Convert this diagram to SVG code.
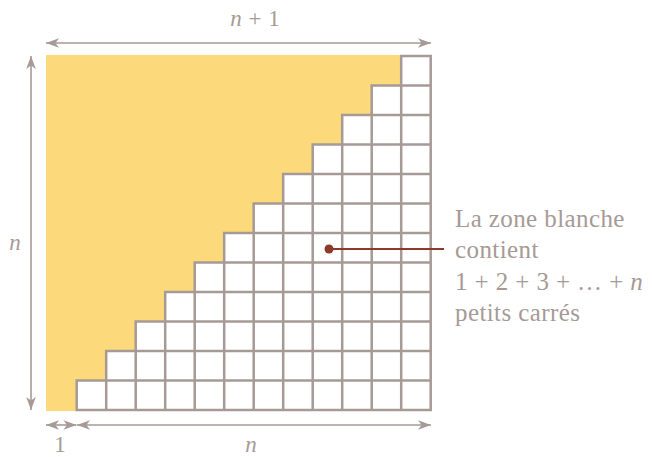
<svg xmlns="http://www.w3.org/2000/svg" width="652" height="457" viewBox="0 0 652 457">
<defs>
<style>
.dim{stroke:#a69a96;stroke-width:1.6;fill:none;marker-start:url(#ah);marker-end:url(#ah)}
.grid{stroke:#a69a96;stroke-width:2.5;fill:none;stroke-linecap:square}
.lbl{font-family:"Liberation Serif","Times New Roman",serif;font-size:23px;fill:#a69a96}
.call{font-family:"Liberation Serif","Times New Roman",serif;font-size:25px;fill:#a69a96;letter-spacing:0.4px}
.it{font-style:italic}
</style>
<marker id="ah" markerUnits="userSpaceOnUse" markerWidth="16" markerHeight="12" viewBox="-14 -6 15 12" refX="0" refY="0" orient="auto-start-reverse">
<path d="M0,0 L-13,-4.8 L-9.5,0 L-13,4.8 Z" fill="#a69a96"/>
</marker>
</defs>
<rect width="652" height="457" fill="#ffffff"/>
<g id="yellow-area">
<polygon fill="#fcd97a" points="46,55 401.2,55 401.2,85.5 371.7,85.5 371.7,115 342.2,115 342.2,144.5 312.7,144.5 312.7,174 283.2,174 283.2,203.5 253.7,203.5 253.7,233 224.2,233 224.2,262.5 194.7,262.5 194.7,292 165.2,292 165.2,321.5 135.7,321.5 135.7,351 106.2,351 106.2,380.5 76.7,380.5 76.7,411 46,411"/>
</g>
<g id="white-squares">
<path class="grid" d="M401.2,56H430.7 M371.7,85.5H430.7 M342.2,115H430.7 M312.7,144.5H430.7 M283.2,174H430.7 M253.7,203.5H430.7 M224.2,233H430.7 M194.7,262.5H430.7 M165.2,292H430.7 M135.7,321.5H430.7 M106.2,351H430.7 M76.7,380.5H430.7 M76.7,410H430.7 M76.7,380.5V410 M106.2,351V410 M135.7,321.5V410 M165.2,292V410 M194.7,262.5V410 M224.2,233V410 M253.7,203.5V410 M283.2,174V410 M312.7,144.5V410 M342.2,115V410 M371.7,85.5V410 M401.2,56V410 M430.7,56V410"/>
</g>
<g id="connectors">
<line class="dim" x1="46" y1="43" x2="431" y2="43"/>
<line class="dim" x1="31" y1="56" x2="31" y2="410"/>
<line class="dim" x1="46" y1="425" x2="76.5" y2="425"/>
<line class="dim" x1="77" y1="425" x2="431" y2="425"/>
<line x1="329" y1="249" x2="444" y2="249" stroke="#8c3b2a" stroke-width="1.8"/>
<circle cx="329" cy="249" r="4.5" fill="#8c3b2a"/>
</g>
<g id="label-top">
<text class="lbl" x="255" y="26" text-anchor="middle" word-spacing="1"><tspan class="it">n</tspan> + 1</text>
</g>
<g id="label-left">
<text class="lbl it" x="15" y="250" text-anchor="middle">n</text>
</g>
<g id="label-bottom-1">
<text class="lbl" x="60" y="452" text-anchor="middle">1</text>
</g>
<g id="label-bottom-n">
<text class="lbl it" x="251" y="452" text-anchor="middle">n</text>
</g>
<g id="callout">
<text class="call" x="455" y="227">La zone blanche</text>
<text class="call" x="455" y="258">contient</text>
<text class="call" x="455" y="290">1 + 2 + 3 + … + <tspan class="it">n</tspan></text>
<text class="call" x="455" y="321">petits carrés</text>
</g>
</svg>
